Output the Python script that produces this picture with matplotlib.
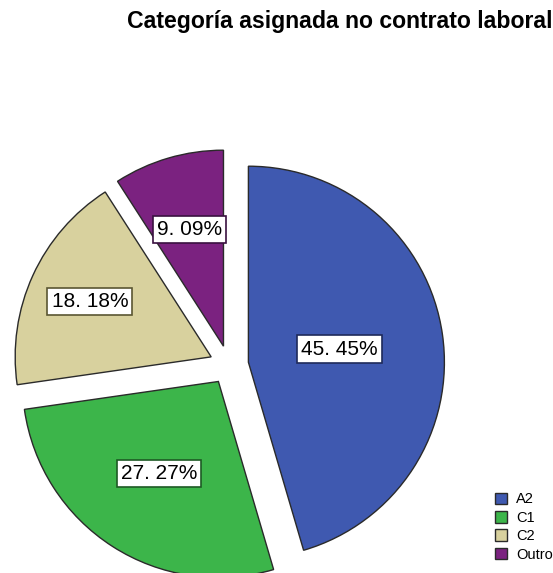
import numpy as np
import matplotlib.pyplot as plt

categories = ['A2', 'C1', 'C2', 'Outro']
percentages = [45.45, 27.27, 18.18, 9.09]
colors = ['#3F59B0', '#3CB54A', '#D8D19E', '#7B2280']
edge_colors = ['#1E2A5A', '#1D5A24', '#5A5632', '#3A1040']
# how far out each percentage box sits, as a share of the radius
label_frac = [0.47, 0.56, 0.68, 0.62]

fig = plt.figure(figsize=(5.53, 5.73), dpi=100)
ax = fig.add_axes([0, 0, 1, 1])

radius = 196
wedges, texts, autotexts = ax.pie(
    percentages, colors=colors, startangle=90, counterclock=False,
    explode=[0.1 * radius] * len(percentages), center=(229, 208), radius=radius,
    autopct=lambda p: '%.2f%%' % p, pctdistance=0.57,
    wedgeprops=dict(edgecolor='#2a2a2a', linewidth=1.0),
    frame=True)
ax.axis('off')
ax.set_xlim(0, 553)
ax.set_ylim(0, 573)
ax.set_aspect('equal')

for w, t, ec, f in zip(wedges, autotexts, edge_colors, label_frac):
    mid = np.deg2rad((w.theta1 + w.theta2) / 2)
    cx, cy = w.center
    t.set_position((cx + f * w.r * np.cos(mid), cy + f * w.r * np.sin(mid)))
    t.set_text(t.get_text().replace('.', '. '))
    t.set_family(['Liberation Sans', 'DejaVu Sans'])
    t.set_fontsize(15)
    t.set_color('black')
    t.set_bbox(dict(facecolor='white', edgecolor=ec, boxstyle='square,pad=0.2', linewidth=1.2))

fig.text(0.999, 0.962, 'Categoría asignada no contrato laboral', ha='right', va='center',
         fontsize=16.6, fontweight='bold', family=['Liberation Sans', 'DejaVu Sans'])

leg = ax.legend(wedges, categories, loc='lower left', bbox_to_anchor=(0.895, 0.02),
                frameon=False, handlelength=0.85, handleheight=0.85,
                handletextpad=0.6, labelspacing=0.3, borderaxespad=0.0, borderpad=0.0,
                prop={'family': ['Liberation Sans', 'DejaVu Sans'], 'size': 10.5})

fig.savefig('out.png', dpi=100, facecolor='white')
